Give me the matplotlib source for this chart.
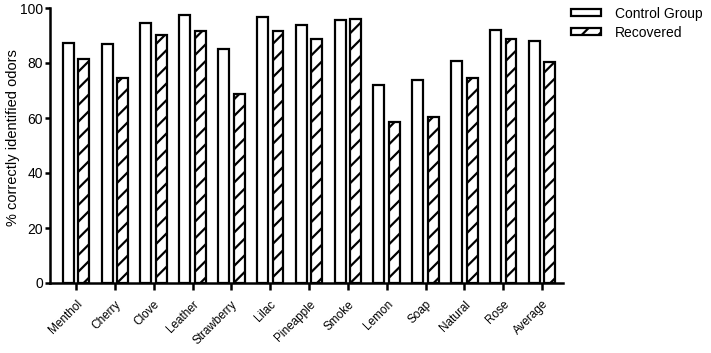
import matplotlib
matplotlib.use("Agg")
import matplotlib.pyplot as plt
import numpy as np

plt.rcParams['font.family'] = ['Liberation Sans', 'DejaVu Sans']
plt.rcParams['hatch.linewidth'] = 1.6

categories = ["Menthol", "Cherry", "Clove", "Leather", "Strawberry", "Lilac",
              "Pineapple", "Smoke", "Lemon", "Soap", "Natural", "Rose", "Average"]
control = [87.2, 86.8, 94.5, 97.6, 85.0, 96.6, 93.7, 95.5, 72.0, 74.0, 80.6, 92.1, 88.1]
recovered = [81.6, 74.7, 90.3, 91.8, 68.6, 91.6, 88.7, 96.0, 58.5, 60.2, 74.7, 88.6, 80.5]
series_names = ["Control Group", "Recovered"]
yticks = [0, 20, 40, 60, 80, 100]

fig = plt.figure(figsize=(7.11, 3.53), dpi=100)
ax = fig.add_axes([50/711, 1-283/353, (563-50)/711, (283-8)/353])

x = np.arange(len(categories))
w = 0.28
ax.bar(x - 0.2, control, w, facecolor='white', edgecolor='black', linewidth=1.6,
       label=series_names[0])
ax.bar(x + 0.2, recovered, w, facecolor='white', edgecolor='black', linewidth=1.6,
       hatch='//', label=series_names[1])

ax.set_xlim(-0.67, len(categories) - 1 + 0.54)
ax.set_ylim(0, 100)
ax.set_yticks(yticks)
ax.set_xticks(x)
ax.set_xticklabels(categories, rotation=45, ha='right', rotation_mode='anchor', fontsize=8.5)
ax.tick_params(axis='y', labelsize=10, width=1.8, length=3.5, pad=1.5, direction='out')
ax.tick_params(axis='x', width=1.8, length=5, pad=6, direction='out')
for s in ['top', 'right']:
    ax.spines[s].set_visible(False)
for s in ['left', 'bottom']:
    ax.spines[s].set_linewidth(1.8)
ax.set_ylabel("% correctly identified odors", fontsize=10.5)
ax.yaxis.set_label_coords(-0.058, 0.53)

ax.legend(loc='upper left', bbox_to_anchor=(561/711, 1.0 + 3/353), bbox_transform=fig.transFigure,
          frameon=False, fontsize=10, handlelength=2.2, handleheight=0.4,
          labelspacing=0.35, handletextpad=1.0, borderaxespad=0.3)

fig.savefig("out.png", dpi=100)
